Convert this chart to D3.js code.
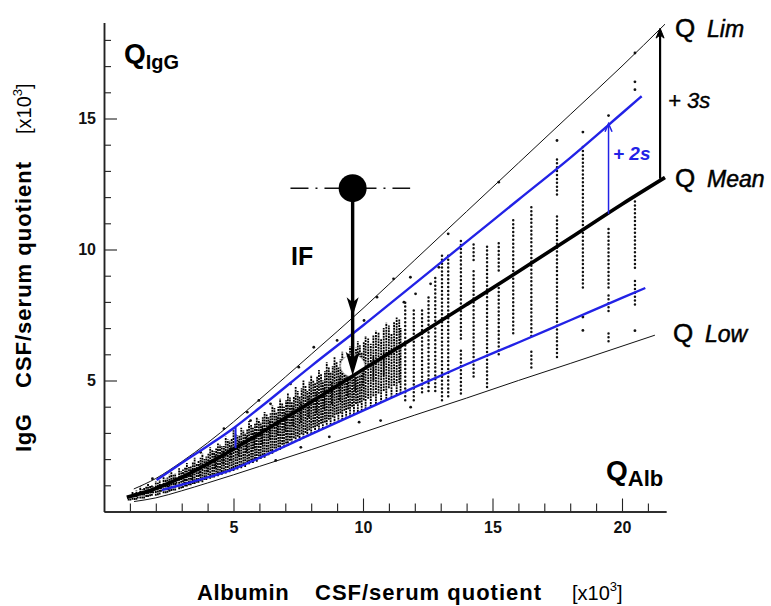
<!DOCTYPE html>
<html><head><meta charset="utf-8">
<script src="https://cdn.jsdelivr.net/npm/d3@7"></script>
<style>
body{margin:0;background:#fff;}
svg{display:block;font-family:"Liberation Sans",Arial,Helvetica,sans-serif;}
</style></head><body>
<svg id="chart" width="771" height="606"></svg>
<script>
// Reiber diagram: IgG vs albumin CSF/serum quotients (both x10^3)

// hyperbolic reference curves, sampled as [QAlb, QIgG]
const qLim  = [[1.15,0.86],[2,1.26],[3,1.9],[4,2.62],[5,3.42],[6,4.27],[8,6.0],[10,7.75],[12,9.6],[14,11.45],[16,13.3],[18,15.15],[20,17.0],[21.66,18.6]];
const qMean = [[0.88,0.54],[2,0.88],[3,1.3],[4,1.82],[5,2.38],[6,2.97],[8,4.18],[10,5.42],[12,6.65],[14,7.9],[16,9.16],[18,10.44],[20,11.73],[21.66,12.75]];
const qLow  = [[1.16,0.38],[2,0.52],[3,0.79],[4,1.09],[5,1.4],[6,1.72],[8,2.36],[10,3.02],[12,3.68],[14,4.33],[16,5.0],[18,5.65],[20,6.31],[21.27,6.73]];
const qPlus2s  = [[2.03,1.2],[3,1.85],[4,2.5],[5,3.18],[6,3.95],[8,5.55],[10,7.1],[12,8.7],[14,10.3],[16,11.9],[18,13.5],[20,15.2],[20.76,15.85]];
const qMinus2s = [[2.23,0.82],[3,1.02],[4,1.3],[5,1.62],[6,2.05],[8,2.95],[10,3.85],[12,4.75],[14,5.62],[16,6.45],[18,7.3],[20,8.15],[20.9,8.53]];

// patient values, dense range: stacked columns [QAlb, QIgG from, QIgG to]
const denseColumns = [
  [0.95,0.42,0.62],[1.1,0.45,0.75],[1.25,0.45,0.8],[1.4,0.5,0.95],[1.55,0.5,0.9],[1.7,0.55,1.05],[1.85,0.6,1.0],[2.0,0.6,1.15],
  [2.15,0.65,1.2],[2.3,0.7,1.35],[2.45,0.72,1.3],[2.6,0.78,1.5],[2.75,0.8,1.45],[2.9,0.85,1.65],[3.05,0.9,1.6],[3.2,0.95,1.85],
  [3.35,1.0,1.75],[3.5,1.05,2.05],[3.65,1.1,1.95],[3.8,1.12,2.2],[3.95,1.2,2.1],[4.1,1.25,2.45],[4.25,1.3,2.3],[4.4,1.35,2.6],
  [4.55,1.4,2.5],[4.7,1.45,2.85],[4.85,1.5,2.7],[5.0,1.55,3.1],[5.15,1.6,2.9],[5.3,1.65,3.2],[5.45,1.7,3.0],[5.6,1.8,3.45],
  [5.75,1.85,3.2],[5.9,1.9,3.6],[6.05,2.0,3.4],[6.2,2.05,3.8],[6.35,2.15,3.6],[6.5,2.2,4.05],[6.65,2.3,3.8],[6.8,2.35,4.3],
  [6.95,2.45,4.0],[7.1,2.5,4.5],[7.25,2.6,4.2],[7.4,2.65,4.75],[7.55,2.7,4.4],[7.7,2.8,5.0],[7.85,2.85,4.6],[8.0,2.95,5.2],
  [8.15,3.0,4.9],[8.3,3.1,5.4],[8.45,3.15,5.0],[8.6,3.2,5.7],[8.75,3.3,5.3],[8.9,3.35,5.9],[9.05,3.4,5.5],[9.2,3.5,6.1],
  [9.35,3.55,5.7],[9.5,3.6,6.3],[9.65,3.7,5.9],[9.8,3.8,6.5],[9.95,3.85,6.1],[10.1,3.9,6.7],[10.3,4.0,6.4],[10.5,4.1,6.9],
  [10.7,4.15,6.6],[10.9,4.3,7.2],[11.1,4.35,6.8],[11.3,4.45,7.4],[11.45,4.5,7.0],
  [1.3,0.5,0.7],[1.9,0.7,0.95],[2.2,0.75,1.05],[2.5,0.8,1.15],[2.8,0.95,1.3],[3.1,1.05,1.45],[3.4,1.2,1.6],[3.7,1.35,1.8],
  [4.0,1.5,1.95],[4.3,1.65,2.15],[4.6,1.8,2.3],[4.9,1.95,2.5],[5.2,2.1,2.7],[5.5,2.25,2.85],[5.8,2.4,3.05],[6.1,2.55,3.25],
  [6.4,2.75,3.45],[6.7,2.9,3.6],[7.0,3.05,3.8],[7.3,3.25,4.0],[7.6,3.4,4.2],[7.9,3.6,4.4],[8.2,3.75,4.55],[8.5,3.9,4.75],
  [8.8,4.1,4.95],[9.1,4.25,5.15],[9.4,4.4,5.35],[9.7,4.6,5.5],[10.0,4.8,5.7],[10.4,5.0,5.9],[10.8,5.2,6.1],
  [1.02,0.42,0.58],[1.18,0.44,0.7],[1.48,0.5,0.85],[1.63,0.55,0.95],[1.78,0.58,0.98],[2.08,0.62,1.1],[2.38,0.7,1.25],[2.53,0.75,1.4],
  [2.68,0.8,1.4],[2.98,0.88,1.55],[3.13,0.95,1.7],[3.28,1.0,1.7],[3.43,1.05,1.9],[3.58,1.1,1.85],[3.73,1.15,2.05],[3.88,1.2,2.0],
  [4.03,1.28,2.2],[4.18,1.3,2.35],[4.33,1.38,2.4],[4.48,1.45,2.55],[4.63,1.5,2.5],[4.78,1.55,2.75],[4.93,1.62,2.8],[5.08,1.7,2.95],
  [5.23,1.75,2.9],[5.38,1.8,3.1],[5.53,1.88,3.15],[5.68,1.95,3.3],[5.83,2.0,3.35],[5.98,2.1,3.5],[6.13,2.15,3.6],[6.28,2.25,3.7],
  [6.43,2.3,3.75],[6.58,2.4,3.95],[6.73,2.45,4.0],[6.88,2.55,4.15],[7.03,2.6,4.25],[7.18,2.7,4.35],[7.33,2.8,4.4],[7.48,2.85,4.6],
  [7.63,2.95,4.7],[7.78,3.0,4.8],[7.93,3.1,4.95],[8.08,3.2,5.0],[8.23,3.25,5.15],[8.38,3.35,5.25],[8.53,3.4,5.35],[8.68,3.5,5.5],
  [8.83,3.6,5.55],[8.98,3.7,5.7],[9.13,3.75,5.8],[9.28,3.85,5.9],[9.43,3.9,6.05],[9.58,4.0,6.1],[9.73,4.1,6.25],[9.88,4.15,6.35],
  [10.03,4.25,6.5],[10.2,4.3,6.6],[10.4,4.4,6.75],[10.6,4.5,6.85],[10.8,4.6,7.0],[11.0,4.7,7.1],[11.2,4.8,7.25],[11.4,4.9,7.35]
];
// patient values, high albumin quotients: separate columns
const sparseColumns = [
  [11.63,4.25,8.05],[11.96,4.25,7.8],[12.28,4.55,7.8],[12.53,4.6,8.3],[12.79,4.6,8.95],[13.05,4.25,9.85],[13.29,4.4,9.9],
  [13.78,4.5,6.2],[13.78,6.6,10.45],[14.27,5.15,9.2],[14.27,9.6,10.2],[14.79,4.75,10.2],
  [15.24,6.0,8.7],[15.24,9.2,10.35],[15.8,6.8,11.2],[16.5,5.5,6.2],[16.5,6.7,11.7],
  [17.49,5.9,11.35],[17.49,12.1,13.5],[18.49,8.55,13.95],
  [19.48,8.55,10.8],[19.48,7.65,8.3],[19.48,6.5,6.8],[20.5,9.3,11.95],[20.5,7.9,8.8]
];
const singlePoints = [
  [1.87,1.25],[3.73,2.26],[4.63,3.16],[5.53,3.79],[5.98,4.24],[5.66,3.47],[6.43,4.11],[7.2,4.87],[7.52,5.51],
  [8.1,6.27],[9.0,6.53],[10.04,7.29],[10.54,8.18],[11.18,8.88],[11.83,8.94],[11.58,7.99],[12.03,8.31],[12.61,8.69],[12.93,9.32],
  [13.29,10.6],[15.24,12.57],[17.49,14.16],[18.49,14.48],[18.49,7.42],[18.49,6.91],[19.48,15.11],
  [20.5,17.5],[20.5,16.4],[20.5,16.1],[20.5,6.9],
  [6.63,1.95],[9.85,3.41],[10.68,3.47],[11.84,3.98],[7.6,2.45],[8.7,2.85]
];

// annotation values
const ifPoint = {x: 9.6, y: 12.34, lim: 7.45, mean: 5.18, lineFrom: 7.2, lineTo: 11.82};
const arrow3s = {x: 21.47, from: 12.7, to: 18.45};
const arrow2s = {x: 19.48, from: 11.36, to: 14.8};
const tick2s  = {x: 5.08, from: 2.42, to: 3.22};

const xMinor = [1,2,3,4,6,7,8,9,11,12,13,14,16,17,18,19,21];
const xMajor = [5,10,15,20];
const yMinor = [1,2,3,4,6,7,8,9,11,12,13,14,16,17,18];
const yMajor = [5,10,15];

const BLUE = "#2222e6";
const svg = d3.select("#chart");

const x = d3.scaleLinear().domain([0, 21.7]).range([104, 104 + 21.7 * 25.9]);
const y = d3.scaleLinear().domain([0, 18.66]).range([511.5, 511.5 - 18.66 * 26.2]);

// axes with inward ticks
const gx = svg.append("g").attr("transform", `translate(0,${y(0)})`);
gx.append("g").call(d3.axisBottom(x).tickValues(xMinor).tickSize(-8).tickFormat("").tickSizeOuter(0));
gx.append("g").call(d3.axisBottom(x).tickValues(xMajor).tickSize(-13).tickPadding(10).tickSizeOuter(0));
const gy = svg.append("g").attr("transform", `translate(${x(0)},0)`);
gy.append("g").call(d3.axisLeft(y).tickValues(yMinor).tickSize(-7).tickFormat("").tickSizeOuter(0));
gy.append("g").call(d3.axisLeft(y).tickValues(yMajor).tickSize(-13).tickPadding(8).tickSizeOuter(0));
svg.selectAll(".domain").attr("stroke", "#222").attr("stroke-width", 1.5);
svg.selectAll(".tick line").attr("stroke", "#222").attr("stroke-width", 1.1);
svg.selectAll(".tick text").attr("font-size", 16).attr("font-weight", "bold").attr("fill", "#111")
   .attr("font-family", "Liberation Sans, Arial, sans-serif");

// patient scatter
const pts = svg.append("g");
pts.selectAll("line.dense").data(denseColumns).join("line")
  .attr("x1", d => x(d[0])).attr("x2", d => x(d[0]))
  .attr("y1", d => y(d[1])).attr("y2", d => y(d[2]))
  .attr("stroke", "#000").attr("stroke-width", 1.8)
  .attr("stroke-dasharray", "2 0.8");
pts.selectAll("line.sparse").data(sparseColumns).join("line")
  .attr("x1", d => x(d[0])).attr("x2", d => x(d[0]))
  .attr("y1", d => y(d[1])).attr("y2", d => y(d[2]))
  .attr("stroke", "#111").attr("stroke-width", 2.5)
  .attr("stroke-linecap", "round").attr("stroke-dasharray", "0 3.9");
pts.selectAll("circle").data(singlePoints).join("circle")
  .attr("cx", d => x(d[0])).attr("cy", d => y(d[1])).attr("r", 1.4).attr("fill", "#111");

// faint halo where the IF arrow meets the mean curve
svg.append("ellipse")
  .attr("cx", x(ifPoint.x)).attr("cy", y(ifPoint.mean) - 10).attr("rx", 12).attr("ry", 11)
  .attr("fill", "#fff").attr("stroke", "#bbb").attr("stroke-width", 0.8);

// curves
const line = d3.line().x(d => x(d[0])).y(d => y(d[1])).curve(d3.curveMonotoneX);
svg.append("path").attr("d", line(qLim)).attr("fill", "none").attr("stroke", "#111").attr("stroke-width", 1);
svg.append("path").attr("d", line(qLow)).attr("fill", "none").attr("stroke", "#111").attr("stroke-width", 1);
svg.append("path").attr("d", line(qPlus2s)).attr("fill", "none").attr("stroke", BLUE).attr("stroke-width", 2.4);
svg.append("path").attr("d", line(qMinus2s)).attr("fill", "none").attr("stroke", BLUE).attr("stroke-width", 2.4);
svg.append("path").attr("d", line(qMean)).attr("fill", "none").attr("stroke", "#000").attr("stroke-width", 3.6);

// +2s / +3s distance arrows
svg.append("line").attr("x1", x(tick2s.x)).attr("x2", x(tick2s.x))
  .attr("y1", y(tick2s.from)).attr("y2", y(tick2s.to)).attr("stroke", BLUE).attr("stroke-width", 2);

svg.append("line").attr("x1", x(arrow2s.x)).attr("x2", x(arrow2s.x))
  .attr("y1", y(arrow2s.from)).attr("y2", y(arrow2s.to)).attr("stroke", BLUE).attr("stroke-width", 1.5);
svg.append("path")
  .attr("d", `M${x(arrow2s.x) - 3.5},${y(arrow2s.to) + 8} L${x(arrow2s.x)},${y(arrow2s.to)} L${x(arrow2s.x) + 3.5},${y(arrow2s.to) + 8}`)
  .attr("fill", "none").attr("stroke", BLUE).attr("stroke-width", 1.5);

svg.append("line").attr("x1", x(arrow3s.x)).attr("x2", x(arrow3s.x))
  .attr("y1", y(arrow3s.from)).attr("y2", y(arrow3s.to) + 4).attr("stroke", "#000").attr("stroke-width", 2.2);
svg.append("path")
  .attr("d", `M${x(arrow3s.x)},${y(arrow3s.to)} l-4,10 l4,-3 l4,3 Z`)
  .attr("fill", "#000").attr("stroke", "#000").attr("stroke-width", 1);

// IF marker: intrathecal fraction
const ix = x(ifPoint.x);
svg.append("line").attr("x1", x(ifPoint.lineFrom)).attr("x2", x(ifPoint.lineTo))
  .attr("y1", y(ifPoint.y)).attr("y2", y(ifPoint.y))
  .attr("stroke", "#111").attr("stroke-width", 1.4).attr("stroke-dasharray", "18 7 2 7");
svg.append("line").attr("x1", ix).attr("x2", ix)
  .attr("y1", y(ifPoint.y)).attr("y2", y(ifPoint.mean) - 12)
  .attr("stroke", "#000").attr("stroke-width", 3.4);
svg.append("path")
  .attr("d", `M${ix},${y(ifPoint.lim)} l-6,-19 l6,5 l6,-5 Z`).attr("fill", "#000");
svg.append("path")
  .attr("d", `M${ix},${y(ifPoint.mean)} l-7,-24 l7,6 l7,-6 Z`).attr("fill", "#000");
svg.append("circle").attr("cx", ix).attr("cy", y(ifPoint.y)).attr("r", 14).attr("fill", "#000");

// labels
const T = (px, py, size, weight, style, fill) => svg.append("text")
  .attr("x", px).attr("y", py).attr("font-size", size).attr("font-weight", weight)
  .attr("font-style", style).attr("fill", fill || "#000");

T(291, 265, 25, "bold", "normal").text("IF");

const qi = T(124, 63, 28, "bold", "normal"); qi.append("tspan").text("Q");
qi.append("tspan").attr("font-size", 20).attr("dy", 6).text("IgG");
const qa = T(606, 480, 28, "bold", "normal"); qa.append("tspan").text("Q");
qa.append("tspan").attr("font-size", 22).attr("dy", 6).text("Alb");

const curveLabel = (py, name, qx) => {
  const t = T(qx, py, 26, "normal", "normal").attr("stroke", "#000").attr("stroke-width", 0.5);
  t.append("tspan").text("Q");
  t.append("tspan").attr("x", qx + 32).attr("font-style", "italic").attr("font-size", 23).text(name);
};
curveLabel(37, "Lim", 675);
curveLabel(187, "Mean", 675);
curveLabel(342, "Low", 673);

T(668, 108, 22, "normal", "italic").attr("stroke", "#000").attr("stroke-width", 0.4).text("+ 3s");
T(613, 160, 19, "bold", "italic", BLUE).text("+ 2s");

// axis titles
const xt = svg.append("text").attr("y", 600).attr("font-size", 22).attr("fill", "#000");
xt.append("tspan").attr("x", 197).attr("font-weight", "bold").attr("letter-spacing", 0.6).text("Albumin");
xt.append("tspan").attr("x", 315).attr("font-weight", "bold").attr("letter-spacing", 1).text("CSF/serum quotient");
xt.append("tspan").attr("x", 572).attr("font-size", 20).text("[x10");
xt.append("tspan").attr("font-size", 13).attr("dy", -9).text("3");
xt.append("tspan").attr("font-size", 20).attr("dy", 9).text("]");

const yt = svg.append("text").attr("transform", "translate(31,0) rotate(-90)").attr("font-size", 22).attr("fill", "#000");
yt.append("tspan").attr("x", -452).attr("font-weight", "bold").attr("letter-spacing", 0.6).text("IgG");
yt.append("tspan").attr("x", -388).attr("font-weight", "bold").attr("letter-spacing", 1).text("CSF/serum quotient");
yt.append("tspan").attr("x", -134).attr("font-size", 20).text("[x10");
yt.append("tspan").attr("font-size", 13).attr("dy", -9).text("3");
yt.append("tspan").attr("font-size", 20).attr("dy", 9).text("]");
</script>
</body></html>
